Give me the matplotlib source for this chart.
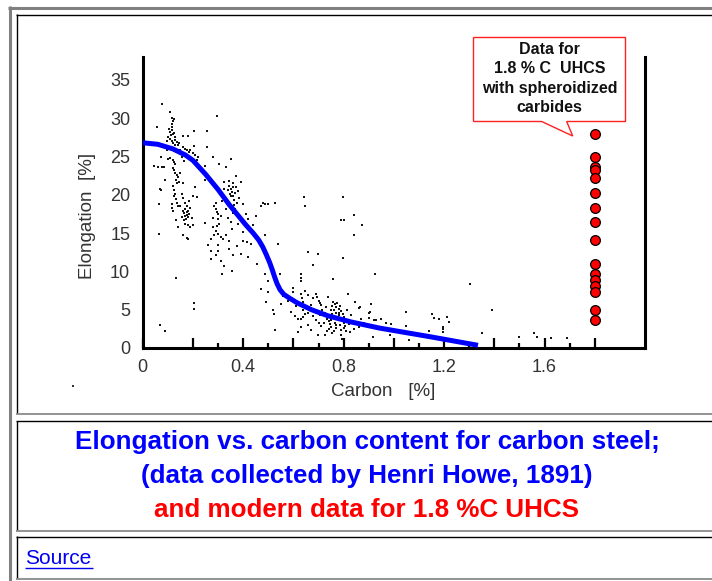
import matplotlib
matplotlib.use("Agg")
import matplotlib.pyplot as plt
from matplotlib.lines import Line2D
from matplotlib.patches import Polygon
import numpy as np

plt.rcParams['font.family'] = ['Liberation Sans', 'DejaVu Sans']

# ---------------- data ----------------
# Howe (1891) scatter, carbon [%] vs elongation [%]
howe_low = [
    (0.075, 31.8), (0.108, 30.8), (0.115, 30.0), (0.12, 29.6), (0.125, 29.9), (0.118, 29.2), (0.056, 28.8),
    (0.105, 28.6), (0.11, 28.2), (0.115, 28.5), (0.12, 27.9), (0.125, 28.1), (0.13, 27.6), (0.1, 27.6),
    (0.108, 27.3), (0.115, 27.0), (0.122, 26.8), (0.13, 27.2), (0.135, 26.9), (0.095, 27.0), (0.14, 26.5),
    (0.112, 27.8), (0.118, 28.8), (0.128, 26.5), (0.104, 26.2), (0.16, 27.7), (0.18, 27.7),
    (0.205, 28.4), (0.258, 28.4), (0.296, 30.3), (0.16, 26.3), (0.17, 26.0), (0.178, 25.8), (0.185, 25.6),
    (0.19, 25.9), (0.2, 25.4), (0.205, 26.4), (0.21, 25.2), (0.22, 25.0), (0.258, 26.2), (0.073, 24.9),
    (0.1, 24.7), (0.11, 24.8), (0.12, 24.6), (0.125, 24.3), (0.13, 24.0), (0.046, 23.8), (0.06, 23.7),
    (0.075, 23.7), (0.086, 23.6), (0.12, 23.5), (0.125, 23.2), (0.13, 22.9), (0.135, 22.6), (0.14, 22.3),
    (0.132, 22.0), (0.145, 21.7), (0.138, 21.5), (0.278, 24.9), (0.304, 24.0), (0.35, 24.7), (0.33, 23.6),
    (0.218, 24.5), (0.25, 23.8), (0.21, 21.0), (0.25, 21.9), (0.324, 21.7), (0.345, 21.2), (0.35, 20.8),
    (0.355, 20.4), (0.348, 20.1), (0.36, 21.5), (0.37, 22.5), (0.39, 21.7), (0.068, 20.7), (0.072, 20.6),
    (0.12, 21.2), (0.125, 20.6), (0.128, 20.1), (0.132, 19.5), (0.135, 19.0), (0.139, 18.6), (0.155, 20.1),
    (0.16, 19.6), (0.17, 19.0), (0.2, 19.9), (0.218, 19.7), (0.066, 18.8), (0.115, 18.8), (0.118, 18.3),
    (0.12, 17.9), (0.16, 17.9), (0.165, 17.6), (0.17, 17.3), (0.175, 17.8), (0.18, 17.1), (0.172, 16.9),
    (0.185, 17.5), (0.168, 18.2), (0.178, 18.5), (0.176, 17.4), (0.182, 17.9), (0.29, 18.2), (0.295, 17.8),
    (0.3, 17.5), (0.36, 19.9), (0.362, 19.3), (0.365, 18.7), (0.368, 18.2), (0.4, 18.8), (0.47, 18.6),
    (0.41, 17.5), (0.132, 16.7), (0.165, 16.7), (0.17, 16.2), (0.18, 16.0), (0.19, 15.8), (0.2, 16.1),
    (0.139, 15.8), (0.25, 16.3), (0.066, 14.9), (0.16, 14.7), (0.175, 14.4), (0.18, 14.2), (0.28, 15.8),
    (0.29, 15.3), (0.3, 14.9), (0.31, 14.5), (0.32, 14.2), (0.285, 14.7), (0.357, 15.5), (0.38, 16.2),
    (0.4, 15.1), (0.4, 14.0), (0.415, 13.8), (0.43, 13.6), (0.377, 13.3), (0.344, 12.9), (0.27, 12.7),
    (0.3, 12.7), (0.29, 12.1), (0.27, 11.6), (0.31, 11.4), (0.39, 12.3), (0.42, 11.9), (0.456, 11.0),
    (0.324, 10.7), (0.357, 10.1), (0.315, 9.6), (0.132, 9.1), (0.47, 7.7), (0.205, 5.9), (0.205, 5.1),
    (0.069, 3.0), (0.089, 2.2), (0.34, 20.6), (0.352, 19.8), (0.358, 21.0), (0.343, 21.8), (0.366, 20.3),
    (0.33, 19.5), (0.29, 19.0), (0.285, 18.6), (0.3, 16.8), (0.305, 16.2), (0.295, 15.9), (0.31, 17.2),
    (0.42, 16.8), (0.44, 16.1), (0.43, 15.4), (0.45, 17.3), (0.48, 18.9), (0.487, 18.8),
    (0.33, 18.2), (0.34, 17.0), (0.35, 16.5), (0.36, 17.6), (0.375, 18.9), (0.385, 19.6), (0.38, 20.5),
    (0.37, 21.0), (0.325, 20.8), (0.315, 19.2), (0.28, 17.0), (0.27, 14.2), (0.26, 13.5), (0.3, 13.4),
    (0.33, 14.8), (0.345, 14.0), (0.36, 12.2), (0.15, 25.8), (0.145, 26.8), (0.155, 25.0), (0.165, 24.4),
    (0.098, 25.9), (0.09, 22.0), (0.15, 22.9), (0.16, 21.6), (0.185, 19.2), (0.19, 18.3), (0.195, 17.0),
    (0.158, 17.1), (0.15, 18.5), (0.125, 19.8),
]
howe_mid = [
    (0.5, 18.8), (0.526, 19.0), (0.645, 18.6), (0.644, 19.7), (0.796, 19.7), (0.80, 16.7), (0.843, 17.4),
    (0.79, 16.7), (0.873, 16.1), (0.84, 14.7), (0.487, 14.8), (0.54, 13.6), (0.659, 12.6), (0.698, 12.3),
    (0.68, 10.8), (0.797, 11.7), (0.487, 9.7), (0.546, 9.6), (0.63, 9.6), (0.632, 9.2), (0.63, 8.8),
    (0.758, 9.0), (0.923, 9.7), (0.5, 8.8), (0.5, 7.3), (0.49, 6.0), (0.52, 4.9), (0.522, 4.5), (0.6, 7.9),
    (0.6, 7.3), (0.645, 7.5), (0.63, 7.1), (0.635, 6.5), (0.64, 6.0), (0.632, 5.5), (0.638, 5.0),
    (0.645, 4.5), (0.64, 4.0), (0.63, 3.8), (0.69, 7.1), (0.695, 6.6), (0.70, 6.2), (0.705, 5.9),
    (0.71, 5.6), (0.738, 6.6), (0.67, 5.6), (0.757, 6.0), (0.765, 5.7), (0.77, 5.4), (0.78, 5.1),
    (0.79, 4.8), (0.797, 4.5), (0.775, 5.9), (0.785, 5.5), (0.76, 5.0), (0.817, 7.1), (0.844, 6.0),
    (0.864, 5.3), (0.91, 5.8), (0.904, 4.7), (0.725, 4.6), (0.73, 4.2), (0.735, 3.8), (0.74, 3.5),
    (0.745, 3.1), (0.75, 2.8), (0.755, 4.4), (0.76, 3.9), (0.765, 3.3), (0.77, 2.6), (0.775, 4.1),
    (0.78, 3.6), (0.785, 3.0), (0.79, 2.4), (0.795, 3.8), (0.80, 3.3), (0.805, 2.9), (0.81, 2.2),
    (0.815, 3.6), (0.75, 3.7), (0.72, 3.2), (0.74, 2.5), (0.76, 2.2), (0.78, 4.6), (0.59, 4.7),
    (0.605, 4.2), (0.62, 3.8), (0.632, 2.7), (0.526, 2.3), (0.698, 1.7), (0.725, 1.7), (0.79, 1.7),
    (0.792, 1.2), (0.824, 2.1), (0.87, 3.8), (0.93, 3.6), (0.56, 6.8), (0.58, 6.2), (0.61, 5.5),
    (0.66, 6.9), (0.68, 4.2), (0.7, 3.3), (0.66, 3.0), (0.55, 5.8), (0.62, 2.1), (0.67, 2.4),
    (0.86, 2.7), (0.88, 3.2), (0.84, 2.5),
    (0.715, 4.9), (0.728, 5.3), (0.748, 4.9), (0.752, 5.5), (0.768, 4.6), (0.782, 4.3), (0.802, 4.0),
    (0.812, 4.9), (0.822, 3.1), (0.83, 4.3), (0.735, 2.2), (0.755, 1.9), (0.77, 3.0), (0.80, 2.6),
    (0.71, 2.9), (0.69, 3.6), (0.705, 4.3), (0.68, 6.5), (0.65, 5.2), (0.658, 4.6),
]
howe_high = [
    (0.862, 5.2), (0.9, 4.6), (0.9, 3.9), (0.92, 3.6), (0.95, 3.8), (0.97, 3.3), (0.99, 3.1), (0.915, 1.5),
    (0.985, 1.7), (1.05, 4.7), (1.05, 2.9), (1.06, 1.1), (1.15, 4.5), (1.16, 3.9), (1.18, 3.8), (1.21, 4.1),
    (1.22, 3.4), (1.14, 2.2), (1.197, 2.5), (1.197, 2.1), (1.194, 2.8), (1.305, 8.4), (1.389, 5.0),
    (1.35, 1.9), (1.5, 1.5), (1.56, 1.9), (1.57, 1.4), (1.627, 1.3), (1.69, 1.3),
]

# trend curve
trend_carbon = [0.0, 0.06, 0.12, 0.17, 0.2, 0.25, 0.3, 0.345, 0.38, 0.41, 0.44, 0.462, 0.478, 0.492,
                0.505, 0.515, 0.525, 0.535, 0.547, 0.562, 0.585, 0.615, 0.672, 0.738, 0.83, 0.943,
                1.148, 1.335]
trend_elong = [26.8, 26.6, 26.0, 25.2, 24.5, 22.7, 20.7, 18.7, 17.3, 16.1, 15.0, 14.1, 13.2, 12.2,
               11.2, 10.3, 9.3, 8.4, 7.6, 7.0, 6.5, 5.9, 5.0, 4.2, 3.4, 2.6,
               1.45, 0.35]

# modern 1.8 %C UHCS data
uhcs_carbon = 1.8
uhcs_elong = [28.0, 24.9, 23.6, 23.2, 22.2, 20.2, 18.3, 16.4, 14.1, 11.0, 9.6, 8.85, 8.1, 7.3, 4.9, 3.6]

x_major = [0, 0.2, 0.4, 0.6, 0.8, 1.0, 1.2, 1.4, 1.6, 1.8]
x_minor = [0.3, 0.5, 0.7, 0.9, 1.1, 1.3, 1.5, 1.7]
x_labels = ['0', '', '0.4', '', '0.8', '', '1.2', '', '1.6', '']
y_ticks = [0, 5, 10, 15, 20, 25, 30, 35]

callout_lines = ["Data for", "1.8 % C  UHCS", "with spheroidized", "carbides"]
caption_blue = ["Elongation vs. carbon content for carbon steel;", "(data collected by Henri Howe, 1891)"]
caption_red = "and modern data for 1.8 %C UHCS"

# ---------------- figure ----------------
W, H = 712, 581
fig = plt.figure(figsize=(W / 100, H / 100), dpi=100)
fig.patch.set_facecolor('white')

def fx(px):
    return px / W

def fy(py):
    return 1 - py / H

def hline(y, x0, x1, color, lw):
    fig.add_artist(Line2D([fx(x0), fx(x1)], [fy(y), fy(y)], color=color, lw=lw, solid_capstyle='butt'))

def vline(x, y0, y1, color, lw):
    fig.add_artist(Line2D([fx(x), fx(x)], [fy(y0), fy(y1)], color=color, lw=lw, solid_capstyle='butt'))

# page frames (table borders)
gray = '#808080'
vline(9.5, 6, 581, gray, 2.2)
hline(7.5, 8, 712, gray, 2.2)
# cell 1
hline(14.5, 16, 712, 'black', 1.0)
vline(16.5, 14, 413, 'black', 1.0)
hline(413.5, 16, 712, gray, 1.2)
# cell 2
hline(421, 16, 712, 'black', 1.0)
vline(16.5, 421, 530, 'black', 1.0)
hline(530.5, 16, 712, gray, 1.2)
# cell 3
hline(536.5, 16, 712, 'black', 1.0)
vline(16.5, 536, 578, 'black', 1.0)
hline(578.5, 16, 712, gray, 1.2)

ax = fig.add_axes([fx(142.7), fy(348), fx(645) - fx(142.7), fy(57) - fy(348)])
ax.set_xlim(0, 2.0)
ax.set_ylim(0, 38)

pts = np.array(howe_low + howe_mid + howe_high)
ax.plot(pts[:, 0], pts[:, 1], linestyle='none', marker='s', markersize=2.0,
        color='#141414', markeredgewidth=0, zorder=2)

ax.plot(trend_carbon, trend_elong, color='#0000ff', lw=3.6, solid_capstyle='butt',
        solid_joinstyle='round', zorder=4)

ax.plot([uhcs_carbon] * len(uhcs_elong), uhcs_elong, linestyle='none', marker='o', markersize=7,
        markerfacecolor='#ff0000', markeredgecolor='black', markeredgewidth=0.9, zorder=5)

ax.spines['top'].set_visible(False)
for s in ['left', 'bottom', 'right']:
    ax.spines[s].set_linewidth(2.2)
    ax.spines[s].set_color('black')

label_color = '#333333'
ax.set_xticks(x_major)
ax.set_xticklabels(x_labels)
ax.set_xticks(x_minor, minor=True)
ax.set_yticks(y_ticks)
ax.tick_params(axis='x', which='major', direction='in', length=7, width=1.6, pad=8,
               labelsize=13, labelcolor=label_color)
ax.tick_params(axis='x', which='minor', direction='in', length=3.5, width=1.6)
ax.tick_params(axis='y', which='major', direction='in', length=7, width=1.6, pad=9,
               labelsize=13, labelcolor=label_color, right=True)
ax.tick_params(axis='y', which='minor', left=False, right=False)
for t in ax.yaxis.get_major_ticks():
    if t.get_loc() == 0:
        t.tick1line.set_visible(False)
        t.tick2line.set_visible(False)

fig.text(fx(88), fy(216), 'Elongation  [%]', rotation=90, ha='center', va='center',
         fontsize=13.5, color=label_color)
fig.text(fx(383), fy(391), 'Carbon   [%]', ha='center', va='center', fontsize=13.5, color=label_color)

# callout box
box = Polygon([(fx(473.5), fy(37.5)), (fx(625.5), fy(37.5)), (fx(625.5), fy(121.5)),
               (fx(566.7), fy(121.5)), (fx(572.7), fy(136)), (fx(541.7), fy(121.5)),
               (fx(473.5), fy(121.5))], closed=True, transform=fig.transFigure,
              facecolor='white', edgecolor='#ff2020', lw=1.0)
fig.add_artist(box)
for i, line in enumerate(callout_lines):
    fig.text(fx(549.5), fy(49.5 + 19.3 * i), line, ha='center', va='center', fontsize=11.5,
             fontweight='bold', color='#111111')

# captions
for i, line in enumerate(caption_blue):
    fig.text(fx(367), fy(442 + 34 * i), line, ha='center', va='center', fontsize=18.7,
             fontweight='bold', color='#0000ff')
fig.text(fx(367), fy(510), caption_red, ha='center', va='center', fontsize=18.7,
         fontweight='bold', color='#ff0000')

fig.text(fx(25), fy(558), 'Source', ha='left', va='center', fontsize=15, color='#0000ee')
hline(567.5, 25, 93, '#0000ee', 1.0)

# stray dot left of the axis
fig.add_artist(Line2D([fx(72.5)], [fy(386)], marker='s', markersize=1.5, color='#333333',
                      markeredgewidth=0, linestyle='none'))

fig.savefig('out.png', dpi=100, facecolor='white')
